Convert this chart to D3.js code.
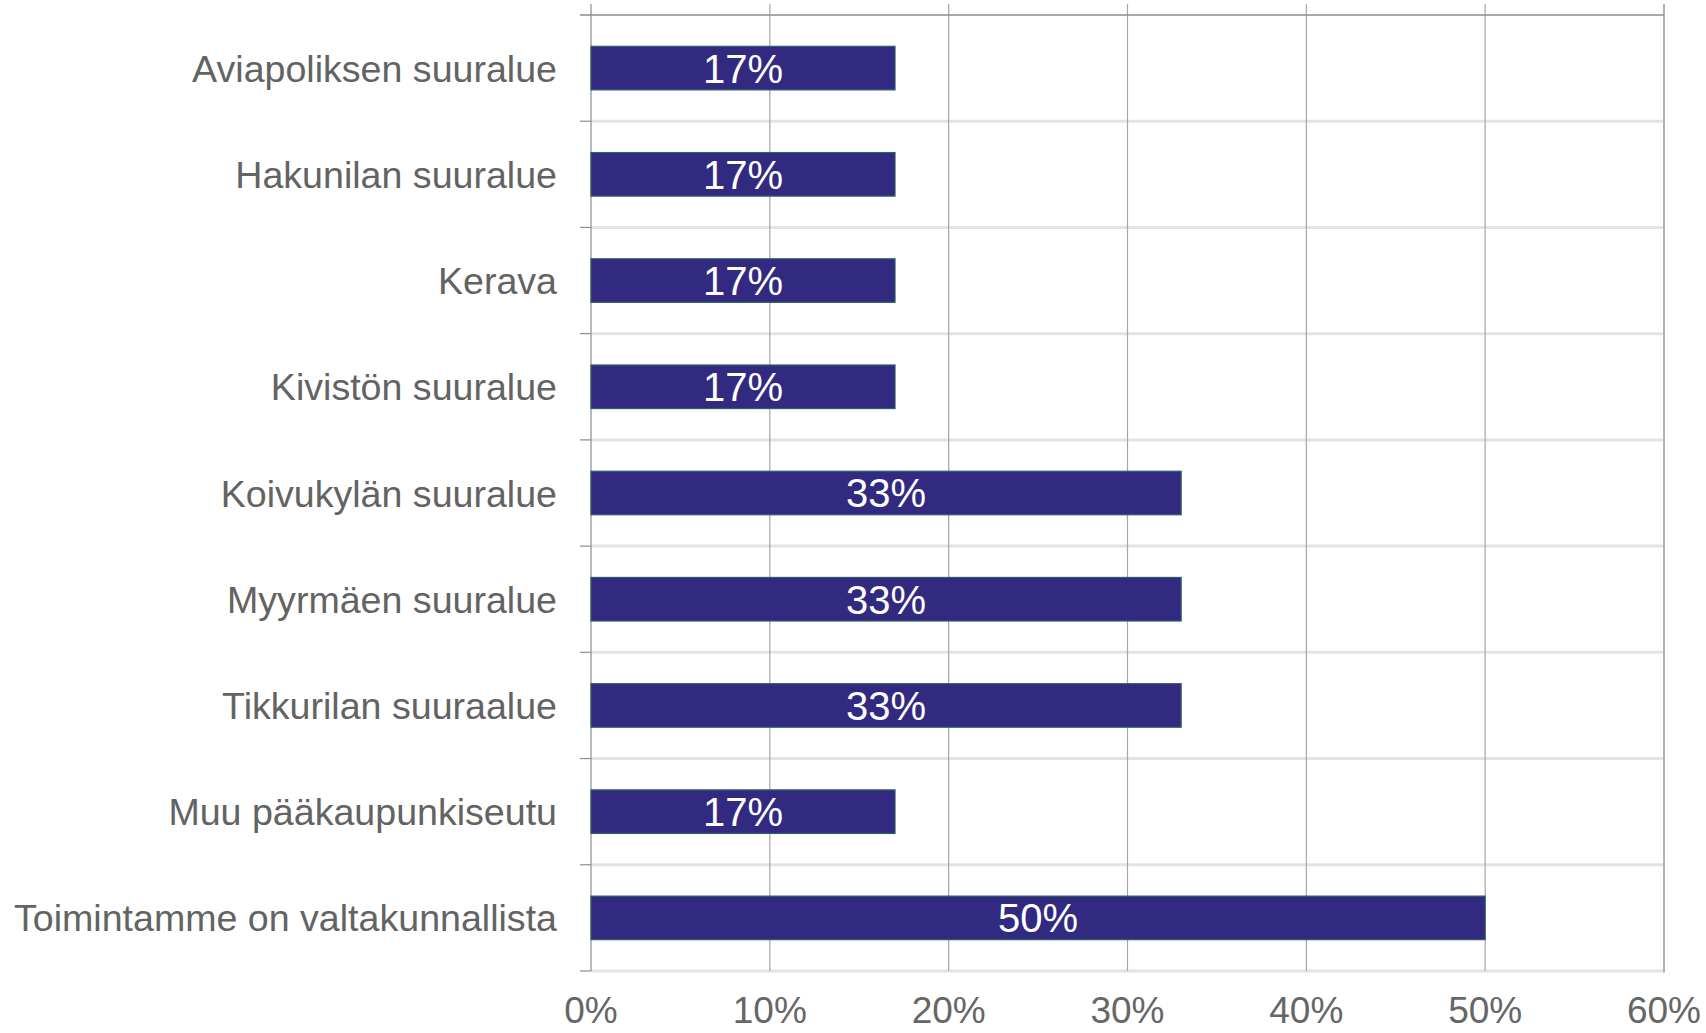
<!DOCTYPE html>
<html>
<head>
<meta charset="utf-8">
<script src="https://cdn.jsdelivr.net/npm/d3@7"></script>
<style>
  body { margin: 0; background: #fff; }
  svg text { font-family: "Liberation Sans", Arial, sans-serif; }
</style>
</head>
<body>
<div id="bar_chart"></div>
<script>
// categories top to bottom, values in percent
var categories = ["Aviapoliksen suuralue", "Hakunilan suuralue", "Kerava", "Kivistön suuralue",
    "Koivukylän suuralue", "Myyrmäen suuralue", "Tikkurilan suuraalue",
    "Muu pääkaupunkiseutu", "Toimintamme on valtakunnallista"];
var values = [17, 17, 17, 17, 33, 33, 33, 17, 50];
var xTicks = [0, 10, 20, 30, 40, 50, 60];

var svgwidth = 1706, svgheight = 1033;
var margin = {top: 15, right: 42, bottom: 62, left: 591},
    width = svgwidth - margin.left - margin.right,
    height = svgheight - margin.top - margin.bottom;

var data = categories.map((c, i) => ({cat: c, val: values[i]}));

var x = d3.scaleLinear().domain([0, 60]).range([0, width]);
var y = d3.scaleBand().domain(categories).range([0, height])
    .paddingInner(0.59).paddingOuter(0.295);

var svg = d3.select("#bar_chart").append("svg")
    .attr("width", svgwidth)
    .attr("height", svgheight)
  .append("g")
    .attr("transform", "translate(" + margin.left + "," + margin.top + ")");

// band boundaries
var bounds = d3.range(categories.length + 1).map(i => y.range()[0] + i * y.step());

// light separators between bands
svg.selectAll(".sep")
    .data(bounds.slice(1))
  .enter().append("line")
    .attr("x1", 0).attr("x2", width)
    .attr("y1", d => d).attr("y2", d => d)
    .style("stroke", "#e3e3e3")
    .style("stroke-width", 3);

// vertical gridlines
svg.selectAll(".vgrid")
    .data(xTicks.slice(1, -1))
  .enter().append("line")
    .attr("x1", d => x(d)).attr("x2", d => x(d))
    .attr("y1", -11).attr("y2", height)
    .style("stroke", "#a6a6a6")
    .style("stroke-width", 1.2);

// right edge
svg.append("line")
    .attr("x1", x(60)).attr("x2", x(60))
    .attr("y1", -11).attr("y2", height + 1.5)
    .style("stroke", "#b3b3b3")
    .style("stroke-width", 2);

// top border
svg.append("line")
    .attr("x1", -11).attr("x2", width)
    .attr("y1", 0).attr("y2", 0)
    .style("stroke", "#8c8c8c")
    .style("stroke-width", 1.5);

// left axis with ticks at band edges
svg.append("line")
    .attr("x1", 0).attr("x2", 0)
    .attr("y1", -11).attr("y2", height)
    .style("stroke", "#8c8c8c")
    .style("stroke-width", 1.2);

svg.selectAll(".ytick")
    .data(bounds.slice(1))
  .enter().append("line")
    .attr("x1", -11).attr("x2", 0)
    .attr("y1", d => d).attr("y2", d => d)
    .style("stroke", "#8c8c8c")
    .style("stroke-width", 1.2);

// bars
svg.selectAll(".bar")
    .data(data)
  .enter().append("rect")
    .attr("x", 0)
    .attr("y", d => y(d.cat))
    .attr("width", d => x(d.val))
    .attr("height", y.bandwidth())
    .style("fill", "#312a80")
    .style("stroke", "#2e5f69")
    .style("stroke-width", 1.2);

// value labels
svg.selectAll(".val")
    .data(data)
  .enter().append("text")
    .attr("x", d => x(d.val) / 2)
    .attr("y", d => y(d.cat) + y.bandwidth() / 2)
    .attr("dy", "0.36em")
    .style("text-anchor", "middle")
    .style("fill", "#fff")
    .style("font-size", "40px")
    .text(d => d.val + "%");

// category labels
svg.selectAll(".cat")
    .data(data)
  .enter().append("text")
    .attr("x", -34)
    .attr("y", d => y(d.cat) + y.bandwidth() / 2)
    .attr("dy", "0.36em")
    .style("text-anchor", "end")
    .style("fill", "#636363")
    .style("font-size", "37.6px")
    .text(d => d.cat);

// x tick labels
svg.selectAll(".xlab")
    .data(xTicks)
  .enter().append("text")
    .attr("x", d => x(d))
    .attr("y", height + 52)
    .style("text-anchor", "middle")
    .style("fill", "#666")
    .style("font-size", "37px")
    .text(d => d + "%");
</script>
</body>
</html>
